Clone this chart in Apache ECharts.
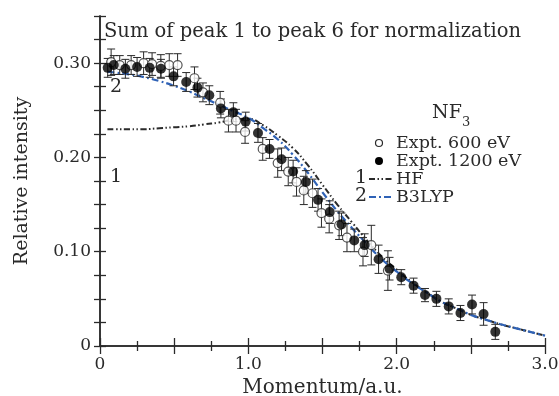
<!DOCTYPE html>
<html>
<head>
<meta charset="utf-8">
<script src="https://cdn.jsdelivr.net/npm/echarts@6/dist/echarts.min.js"></script>
<style>
  html, body { margin: 0; padding: 0; background: #fff; }
  #chart { width: 559px; height: 396px; }
</style>
</head>
<body>
<div id="chart"></div>
<script>
// Expt. 600 eV (open circles)
const momentum600 = [0.075, 0.133, 0.21, 0.294, 0.351, 0.41, 0.467, 0.523, 0.637, 0.694, 0.81, 0.866, 0.917, 0.978, 1.097, 1.198, 1.269, 1.325, 1.374, 1.433, 1.493, 1.545, 1.612, 1.665, 1.773, 1.829, 1.941];
const intensity600 = [0.301, 0.298, 0.298, 0.300, 0.299, 0.297, 0.298, 0.298, 0.284, 0.269, 0.258, 0.239, 0.239, 0.227, 0.209, 0.194, 0.185, 0.174, 0.165, 0.162, 0.141, 0.135, 0.128, 0.115, 0.100, 0.107, 0.080];
const err600 = [0.014, 0.010, 0.010, 0.012, 0.012, 0.012, 0.012, 0.012, 0.012, 0.010, 0.012, 0.012, 0.012, 0.012, 0.012, 0.015, 0.015, 0.015, 0.015, 0.015, 0.015, 0.015, 0.015, 0.015, 0.015, 0.021, 0.021];

// Expt. 1200 eV (filled circles)
const momentum1200 = [0.052, 0.093, 0.171, 0.25, 0.335, 0.411, 0.496, 0.581, 0.657, 0.737, 0.815, 0.899, 0.982, 1.065, 1.143, 1.224, 1.302, 1.388, 1.470, 1.549, 1.628, 1.714, 1.784, 1.878, 1.952, 2.031, 2.114, 2.191, 2.268, 2.351, 2.43, 2.508, 2.586, 2.665];
const intensity1200 = [0.295, 0.298, 0.294, 0.296, 0.295, 0.294, 0.286, 0.280, 0.274, 0.266, 0.252, 0.248, 0.238, 0.226, 0.209, 0.198, 0.185, 0.174, 0.155, 0.142, 0.129, 0.112, 0.107, 0.092, 0.082, 0.073, 0.064, 0.054, 0.050, 0.042, 0.035, 0.044, 0.034, 0.015];
const err1200 = [0.010, 0.010, 0.010, 0.010, 0.010, 0.010, 0.010, 0.010, 0.010, 0.010, 0.010, 0.010, 0.010, 0.010, 0.010, 0.012, 0.012, 0.012, 0.012, 0.012, 0.012, 0.012, 0.012, 0.015, 0.012, 0.008, 0.008, 0.007, 0.008, 0.008, 0.008, 0.010, 0.012, 0.008];

// theory curves
const theoryMomentum = [0.05, 0.1, 0.2, 0.3, 0.4, 0.5, 0.6, 0.7, 0.8, 0.9, 1.0, 1.1, 1.2, 1.3, 1.4, 1.5, 1.6, 1.7, 1.8, 1.9, 2.0, 2.1, 2.2, 2.3, 2.4, 2.5, 2.6, 2.7, 2.8, 2.9, 3.0];
const hf = [0.230, 0.230, 0.230, 0.230, 0.231, 0.232, 0.233, 0.235, 0.237, 0.240, 0.241, 0.234, 0.223, 0.210, 0.192, 0.171, 0.150, 0.131, 0.112, 0.095, 0.081, 0.068, 0.057, 0.047, 0.040, 0.033, 0.028, 0.023, 0.019, 0.015, 0.011];
const b3lyp = [0.291, 0.290, 0.288, 0.285, 0.281, 0.276, 0.270, 0.263, 0.256, 0.249, 0.242, 0.231, 0.219, 0.203, 0.184, 0.163, 0.143, 0.125, 0.108, 0.092, 0.079, 0.067, 0.057, 0.047, 0.040, 0.033, 0.028, 0.023, 0.019, 0.015, 0.011];

const xTickLabels = { 0: "0", 1: "1.0", 2: "2.0", 3: "3.0" };
const yTickLabels = { 0: "0", 10: "0.10", 20: "0.20", 30: "0.30" };

const FONT = "DejaVu Serif";
const INK = "#2a2a2a";
const BLUE = "#2f62b6";
const HF_DASH = [6, 2.5, 1.5, 2.5, 1.5, 2.5];
const B3_DASH = [7, 3, 2, 3];

const zip = (xs, ys) => xs.map((x, i) => [x, ys[i]]);
const errRows = (xs, ys, es) => xs.map((x, i) => [x, ys[i] - es[i], ys[i] + es[i]]);

function errorBar(params, api) {
  const x = api.value(0);
  const lo = api.coord([x, api.value(1)]);
  const hi = api.coord([x, api.value(2)]);
  const w = 4;
  const style = { stroke: INK, lineWidth: 1 };
  return {
    type: "group",
    children: [
      { type: "line", shape: { x1: lo[0], y1: lo[1], x2: hi[0], y2: hi[1] }, style },
      { type: "line", shape: { x1: lo[0] - w, y1: lo[1], x2: lo[0] + w, y2: lo[1] }, style },
      { type: "line", shape: { x1: hi[0] - w, y1: hi[1], x2: hi[0] + w, y2: hi[1] }, style },
    ],
  };
}

const axisLine = { show: true, lineStyle: { color: INK, width: 1.5 } };
const baseX = {
  type: "value", min: 0, max: 3, interval: 0.5,
  axisLine, splitLine: { show: false },
  axisTick: { inside: true, length: 8, lineStyle: { color: INK, width: 1.3 } },
  minorTick: { show: true, splitNumber: 2, length: 5, lineStyle: { color: INK, width: 1.3 } },
};
const baseY = {
  type: "value", min: 0, max: 0.35, interval: 0.025,
  axisLine, splitLine: { show: false },
  axisTick: { inside: true, length: 6, lineStyle: { color: INK, width: 1.3 } },
};

const chart = echarts.init(document.getElementById("chart"));
chart.setOption({
  backgroundColor: "#fff",
  animation: false,
  grid: { left: 100, right: 14, top: 16, bottom: 50, containLabel: false, outerBoundsMode: "none" },
  xAxis: [
    {
      ...baseX, position: "bottom",
      name: "Momentum/a.u.", nameLocation: "middle", nameGap: 27,
      nameTextStyle: { fontFamily: FONT, fontSize: 20, color: INK },
      axisLabel: {
        margin: 10, fontFamily: FONT, fontSize: 17, color: INK,
        formatter: v => xTickLabels[Math.round(v * 2) / 2] ?? "",
      },
    },
    { ...baseX, position: "top", axisLabel: { show: false } },
  ],
  yAxis: [
    {
      ...baseY, position: "left",
      name: "Relative intensity", nameLocation: "middle", nameGap: 68,
      nameTextStyle: { fontFamily: FONT, fontSize: 19, color: INK },
      axisLabel: {
        margin: 9, fontFamily: FONT, fontSize: 17, color: INK,
        formatter: v => yTickLabels[Math.round(v * 1000) / 10] ?? "",
      },
    },
    { ...baseY, position: "right", axisLabel: { show: false } },
  ],
  series: [
    {
      name: "HF", type: "line", data: zip(theoryMomentum, hf), symbol: "none", smooth: true,
      lineStyle: { color: INK, width: 2, type: HF_DASH }, z: 3,
    },
    {
      name: "B3LYP", type: "line", data: zip(theoryMomentum, b3lyp), symbol: "none", smooth: true,
      lineStyle: { color: BLUE, width: 2.2, type: B3_DASH }, z: 3,
    },
    {
      type: "custom", renderItem: errorBar, data: errRows(momentum600, intensity600, err600),
      encode: { x: 0, y: [1, 2] }, z: 4,
    },
    {
      type: "custom", renderItem: errorBar, data: errRows(momentum1200, intensity1200, err1200),
      encode: { x: 0, y: [1, 2] }, z: 4,
    },
    {
      name: "Expt. 600 eV", type: "scatter", data: zip(momentum600, intensity600),
      symbol: "circle", symbolSize: 9,
      itemStyle: { color: "#fff", borderColor: INK, borderWidth: 1.2 }, z: 5,
    },
    {
      name: "Expt. 1200 eV", type: "scatter", data: zip(momentum1200, intensity1200),
      symbol: "circle", symbolSize: 10,
      itemStyle: { color: "#000" }, z: 6,
    },
  ],
  graphic: [
    { type: "text", left: 104, top: 22, style: { text: "Sum of peak 1 to peak 6 for normalization", font: `19.5px "${FONT}"`, fill: INK } },
    { type: "text", left: 110, top: 78, style: { text: "2", font: `19px "${FONT}"`, fill: INK } },
    { type: "text", left: 110, top: 168, style: { text: "1", font: `19px "${FONT}"`, fill: INK } },
    // legend
    { type: "text", left: 432, top: 104, style: { text: "NF", font: `19px "${FONT}"`, fill: INK } },
    { type: "text", left: 462, top: 116, style: { text: "3", font: `13px "${FONT}"`, fill: INK } },
    { type: "circle", shape: { cx: 379, cy: 143, r: 3.5 }, style: { fill: "#fff", stroke: INK, lineWidth: 1.2 } },
    { type: "text", left: 396, top: 134, style: { text: "Expt. 600 eV", font: `17.5px "${FONT}"`, fill: INK } },
    { type: "circle", shape: { cx: 379, cy: 161, r: 4 }, style: { fill: "#000" } },
    { type: "text", left: 396, top: 152, style: { text: "Expt. 1200 eV", font: `17.5px "${FONT}"`, fill: INK } },
    { type: "text", left: 355, top: 169, style: { text: "1", font: `19px "${FONT}"`, fill: INK } },
    { type: "line", shape: { x1: 369, y1: 179, x2: 393, y2: 179 }, style: { stroke: INK, lineWidth: 2, lineDash: HF_DASH } },
    { type: "text", left: 396, top: 170, style: { text: "HF", font: `17.5px "${FONT}"`, fill: INK } },
    { type: "text", left: 355, top: 187, style: { text: "2", font: `19px "${FONT}"`, fill: INK } },
    { type: "line", shape: { x1: 369, y1: 197, x2: 393, y2: 197 }, style: { stroke: BLUE, lineWidth: 2, lineDash: B3_DASH } },
    { type: "text", left: 396, top: 188, style: { text: "B3LYP", font: `17.5px "${FONT}"`, fill: INK } },
  ],
});
</script>
</body>
</html>
